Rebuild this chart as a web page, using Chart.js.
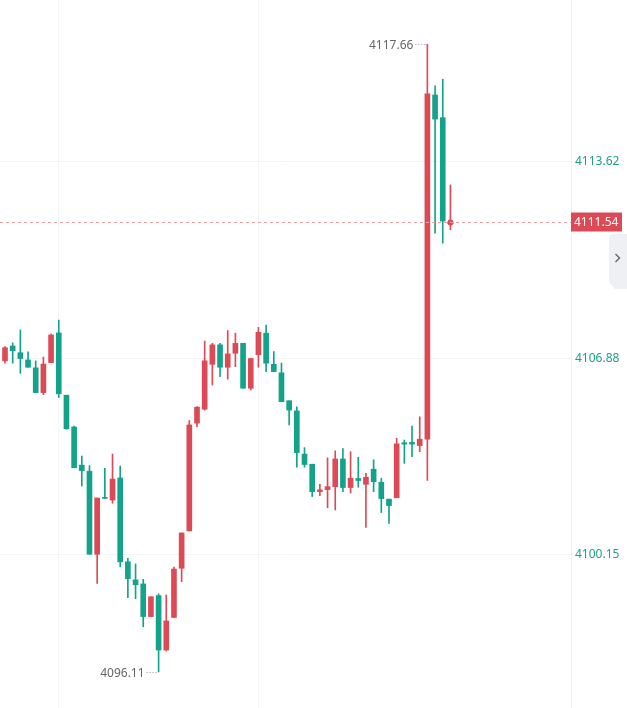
<!DOCTYPE html>
<html>
<head>
<meta charset="utf-8">
<script src="https://cdn.jsdelivr.net/npm/chart.js@4.4.1/dist/chart.umd.min.js"></script>
<style>
  html, body { margin: 0; padding: 0; background: #fff; }
  #wrap { width: 627px; height: 708px; position: relative; }
</style>
</head>
<body>
<div id="wrap"><canvas id="myChart"></canvas></div>
<script>
// candle data (red = rising, green = falling)
const opens = [4106.79, 4107.30, 4107.07, 4106.82, 4106.55, 4105.70, 4106.73, 4107.75, 4105.61, 4104.52,
  4103.21, 4103.00, 4100.15, 4102.08, 4102.01, 4102.77, 4099.89, 4099.27, 4099.13, 4098.01,
  4098.73, 4096.86, 4097.98, 4099.67, 4100.95, 4104.65, 4105.13, 4106.67, 4107.34, 4106.57,
  4107.05, 4107.39, 4105.85, 4107.00, 4107.74, 4106.67, 4106.38, 4105.42, 4105.07, 4103.59,
  4103.24, 4102.30, 4102.37, 4102.47, 4103.42, 4102.44, 4102.75, 4102.55, 4103.07, 4102.62,
  4102.04, 4102.09, 4103.98, 4103.99, 4103.88, 4104.10, 4115.92, 4115.14, 4111.50];
const highs = [4107.28, 4107.41, 4107.85, 4107.10, 4106.79, 4106.92, 4107.71, 4108.19, 4105.61, 4104.55,
  4103.52, 4103.19, 4102.08, 4103.10, 4103.59, 4103.18, 4100.01, 4099.82, 4099.29, 4098.69,
  4098.79, 4098.75, 4099.71, 4100.88, 4104.74, 4105.22, 4107.47, 4107.39, 4107.39, 4107.83,
  4107.74, 4107.39, 4106.87, 4107.94, 4108.02, 4107.11, 4106.71, 4105.42, 4105.21, 4103.81,
  4103.24, 4102.55, 4103.46, 4103.70, 4103.78, 4103.67, 4103.48, 4102.93, 4103.39, 4102.76,
  4102.04, 4104.13, 4104.07, 4104.55, 4104.87, 4117.66, 4116.23, 4116.46, 4112.83];
const lows = [4106.71, 4106.71, 4106.36, 4106.57, 4105.70, 4105.63, 4106.73, 4105.53, 4104.44, 4103.12,
  4102.49, 4100.15, 4099.15, 4102.07, 4101.90, 4099.72, 4098.66, 4098.62, 4097.66, 4098.01,
  4096.11, 4096.83, 4097.98, 4099.21, 4100.95, 4104.53, 4105.10, 4105.96, 4106.25, 4106.16,
  4106.59, 4105.85, 4105.79, 4106.57, 4106.42, 4106.42, 4105.39, 4104.59, 4103.14, 4103.14,
  4102.13, 4102.16, 4101.75, 4101.67, 4102.30, 4102.25, 4102.45, 4101.07, 4102.30, 4101.58,
  4101.21, 4102.09, 4103.27, 4103.50, 4103.67, 4102.68, 4111.17, 4110.83, 4111.29];
const closes = [4107.24, 4107.14, 4106.87, 4106.57, 4105.70, 4106.68, 4107.68, 4105.66, 4104.46, 4103.12,
  4103.02, 4100.15, 4102.08, 4102.07, 4102.73, 4099.89, 4099.31, 4099.10, 4098.01, 4098.69,
  4096.86, 4097.86, 4099.64, 4100.88, 4104.59, 4105.20, 4106.79, 4107.34, 4106.57, 4107.03,
  4107.39, 4105.85, 4106.87, 4107.77, 4106.71, 4106.42, 4105.39, 4105.10, 4103.64, 4103.23,
  4102.30, 4102.36, 4102.47, 4103.42, 4102.44, 4102.76, 4102.68, 4102.79, 4102.64, 4102.06,
  4101.82, 4103.94, 4103.93, 4103.93, 4104.10, 4115.96, 4115.09, 4111.59, 4111.54];
const candles = opens.map((o, i) => i);
const tickValues = [4100.15, 4106.88, 4113.62];
const gridCandles = [7, 33];
const lastPrice = 4111.54;
const highMark = { idx: 55, value: 4117.66 };
const lowMark = { idx: 20, value: 4096.11 };

const UP = "#dc4a56";
const DOWN = "#13a38a";

let colors = candles.map((i) => (closes[i] >= opens[i] ? UP : DOWN));

// extra drawing: price line + tag, high/low marks, side tab
const overlay = {
  id: "overlay",
  afterDatasetsDraw(chart) {
    const ctx = chart.ctx;
    const x = chart.scales.x;
    const y = chart.scales.y;
    const area = chart.chartArea;
    ctx.save();

    // last price dashed line
    let py = Math.round(y.getPixelForValue(lastPrice)) - 0.5;
    ctx.strokeStyle = "#e8a3a9";
    ctx.lineWidth = 1;
    ctx.setLineDash([3, 3]);
    ctx.beginPath();
    ctx.moveTo(area.left, py);
    ctx.lineTo(area.right, py);
    ctx.stroke();
    ctx.setLineDash([]);

    // tag on the axis
    ctx.fillStyle = UP;
    ctx.fillRect(area.right, py - 10, 51, 19);
    ctx.fillStyle = "#fff";
    ctx.font = "12px 'Noto Sans'";
    ctx.textAlign = "left";
    ctx.textBaseline = "middle";
    ctx.fillText(lastPrice.toFixed(2), area.right + 3, py);

    // high / low marks
    ctx.fillStyle = "#666";
    ctx.strokeStyle = "#999";
    ctx.setLineDash([1, 2]);
    [highMark, lowMark].forEach((m) => {
      let mx = x.getPixelForValue(m.idx);
      let my = Math.round(y.getPixelForValue(m.value)) + 0.5;
      ctx.textAlign = "right";
      ctx.fillText(m.value.toFixed(2), mx - 14, my + 1);
      ctx.beginPath();
      ctx.moveTo(mx - 12, my);
      ctx.lineTo(mx - 1, my);
      ctx.stroke();
    });
    ctx.setLineDash([]);

    // small tab with arrow on the right
    ctx.fillStyle = "#eef0f3";
    ctx.beginPath();
    ctx.moveTo(627, 234);
    ctx.lineTo(613, 234);
    ctx.quadraticCurveTo(609, 234, 609, 238);
    ctx.lineTo(609, 282);
    ctx.lineTo(615, 289);
    ctx.lineTo(627, 289);
    ctx.closePath();
    ctx.fill();
    ctx.strokeStyle = "#666";
    ctx.lineWidth = 1.4;
    ctx.beginPath();
    ctx.moveTo(615.5, 254);
    ctx.lineTo(619.5, 258);
    ctx.lineTo(615.5, 262);
    ctx.stroke();

    ctx.restore();
  },
};

const data = {
  datasets: [
    {
      type: "scatter",
      data: [{ x: candles[candles.length - 1], y: lastPrice }],
      pointRadius: 3,
      pointBackgroundColor: UP,
      pointBorderWidth: 0,
      order: 0,
    },
    {
      label: "body",
      data: candles.map((i) => ({ x: i, y: [opens[i], closes[i]] })),
      backgroundColor: colors,
      barThickness: 5,
      minBarLength: 1,
      grouped: false,
      order: 1,
    },
    {
      label: "wick",
      data: candles.map((i) => ({ x: i, y: [lows[i], highs[i]] })),
      backgroundColor: colors,
      barThickness: 1,
      grouped: false,
      order: 2,
    },
  ],
};

const config = {
  type: "bar",
  data: data,
  options: {
    responsive: true,
    maintainAspectRatio: false,
    animation: false,
    layout: { padding: 0, autoPadding: false },
    plugins: {
      legend: { display: false },
      tooltip: { enabled: false },
    },
    scales: {
      x: {
        type: "linear",
        offset: false,
        min: -0.651,
        max: 73.7,
        ticks: { display: false },
        border: { display: false },
        grid: { color: "#f3f4f6", drawTicks: false, offset: false },
        afterBuildTicks: (s) => {
          s.ticks = gridCandles.map((v) => ({ value: v }));
        },
        afterFit: (s) => {
          s.height = 0;
          s.paddingLeft = 0;
          s.paddingRight = 0;
        },
      },
      y: {
        position: "right",
        min: 4094.87,
        max: 4119.18,
        border: { color: "#eceef1" },
        grid: { color: "#f3f4f6", drawTicks: false },
        ticks: {
          color: "#1e9e88",
          padding: 4,
          font: { family: "'Noto Sans'", size: 12 },
          callback: (v) => Number(v).toFixed(2),
        },
        afterBuildTicks: (s) => {
          s.ticks = tickValues.map((v) => ({ value: v }));
        },
        afterFit: (s) => {
          s.width = 56;
          s.paddingTop = 0;
          s.paddingBottom = 0;
        },
      },
    },
  },
  plugins: [overlay],
};

const myChart = new Chart(document.getElementById("myChart"), config);
</script>
</body>
</html>
